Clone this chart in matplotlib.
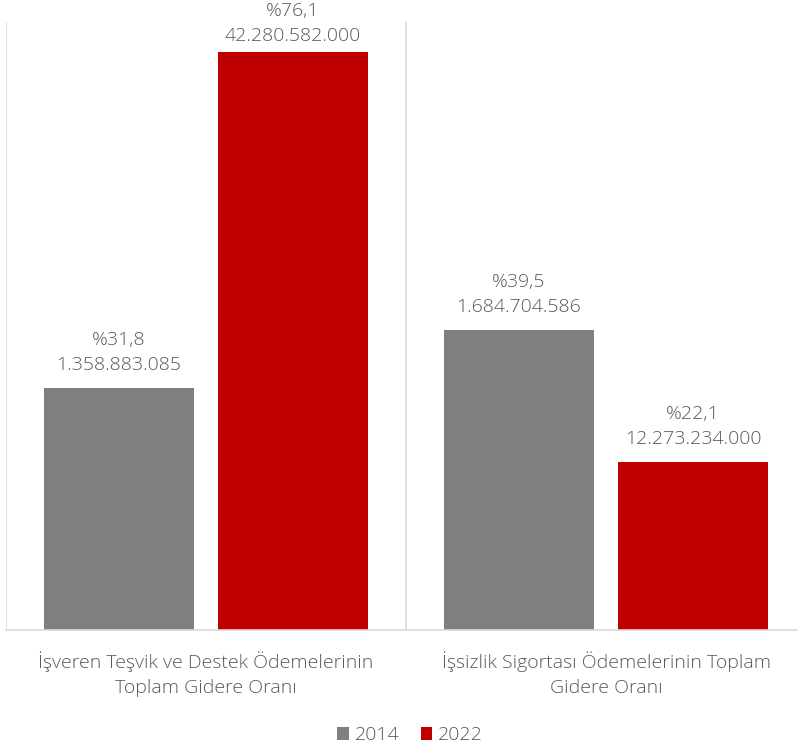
import numpy as np
import matplotlib.pyplot as plt

plt.rcParams['font.family'] = ['Open Sans', 'DejaVu Sans']

categories = ['İşveren Teşvik ve Destek Ödemelerinin\nToplam Gidere Oranı',
              'İşsizlik Sigortası Ödemelerinin Toplam\nGidere Oranı']
years = ['2014', '2022']
pct_2014 = [31.8, 39.5]
pct_2022 = [76.1, 22.1]
amount_2014 = ['1.358.883.085', '1.684.704.586']
amount_2022 = ['42.280.582.000', '12.273.234.000']

colors = {'2014': '#7f7f7f', '2022': '#c00000'}
text_color = '#595959'
line_color = '#d9d9d9'

W, H = 798, 749
fig = plt.figure(figsize=(W / 100, H / 100), dpi=100)
# axes run slightly past the right edge, like the original export
ax = fig.add_axes([6 / W, (H - 630) / H, 800 / W, 608 / H])

x = np.arange(len(categories))
width = 0.375
offset = 0.2175

labels = []
series = [(pct_2014, amount_2014, '2014'), (pct_2022, amount_2022, '2022')]
for i, (vals, amounts, yr) in enumerate(series):
    pos = x + (offset if i else -offset)
    bars = ax.bar(pos, vals, width, color=colors[yr], label=yr, zorder=2)
    for b, v, a in zip(bars, vals, amounts):
        lbl = '%' + f'{v:.1f}'.replace('.', ',') + '\n' + a
        t = ax.annotate(lbl, (b.get_x() + b.get_width() / 2, v),
                        xytext=(0, 10), textcoords='offset points',
                        ha='center', va='bottom', fontsize=14,
                        fontweight='light', color=text_color, linespacing=1.5)
        labels.append(t)

ax.set_xlim(-0.5, len(categories) - 0.5)
ax.set_ylim(0, 80)
for s in ['top', 'right', 'left']:
    ax.spines[s].set_visible(False)
ax.spines['bottom'].set_color(line_color)
ax.spines['bottom'].set_linewidth(1.2)
for xv in [-0.5, 0.5, 1.5]:
    ax.axvline(xv, color=line_color, lw=1.2, zorder=1)

ax.set_yticks([])
ax.set_xticks(x)
ax.set_xticklabels(categories, fontsize=14, fontweight='light',
                   color=text_color, linespacing=1.55)
ax.tick_params(axis='x', length=0, pad=15)

fig.legend(loc='lower center', bbox_to_anchor=(0.514, -0.017), ncol=2,
           frameon=False, prop={'size': 14, 'weight': 'light'},
           labelcolor=text_color,
           handlelength=0.6, handleheight=0.7, handletextpad=0.3,
           columnspacing=1.1)

# push labels that would run off the top back down inside the figure
fig.canvas.draw()
renderer = fig.canvas.get_renderer()
for t in labels:
    top = t.get_window_extent(renderer).y1
    limit = H - 2
    if top > limit:
        dx, dy = t.xyann
        t.xyann = (dx, dy - (top - limit) * 72 / fig.dpi)

fig.savefig('out.png', dpi=100)
